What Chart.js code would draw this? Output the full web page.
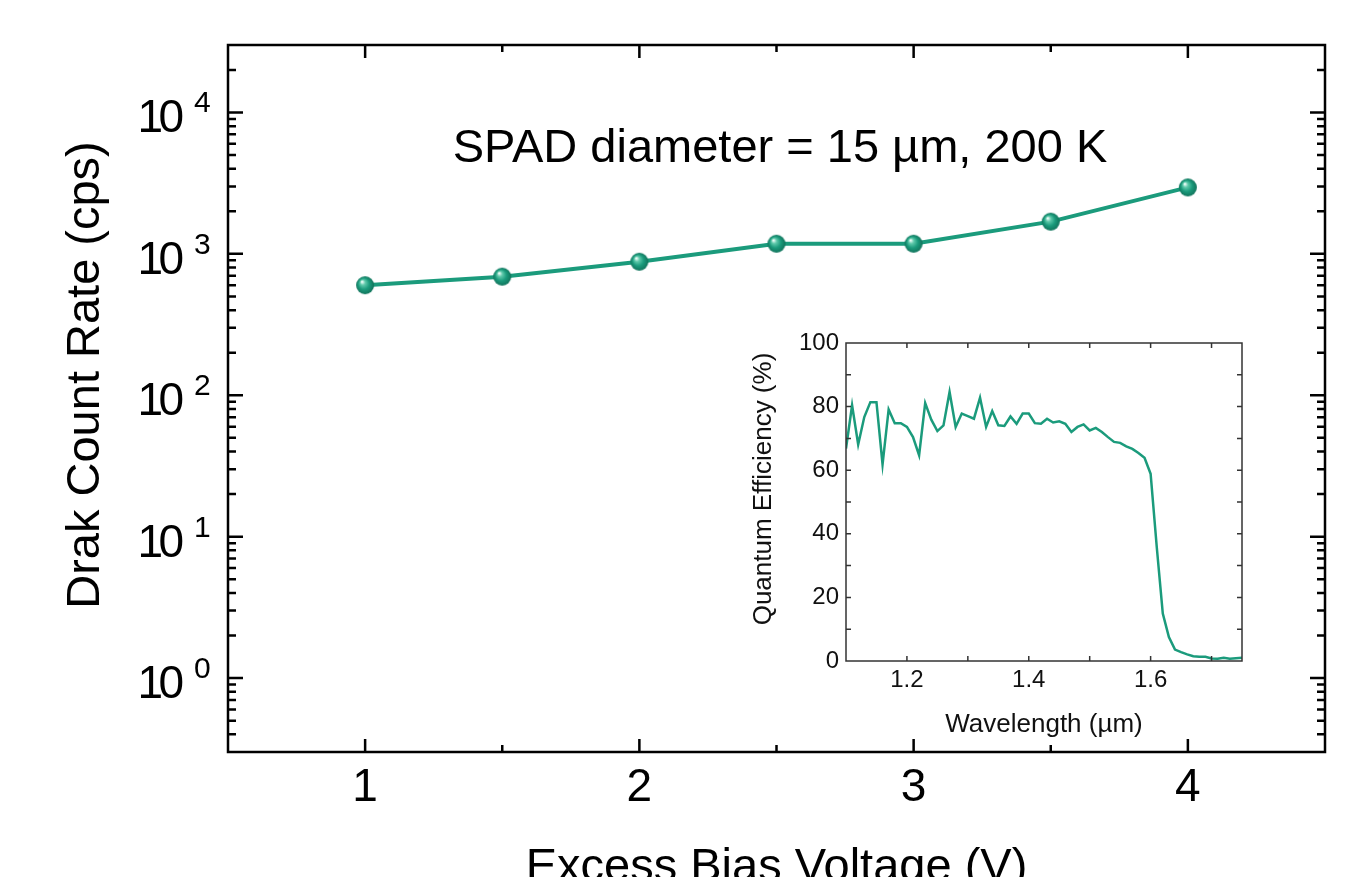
<!DOCTYPE html>
<html>
<head>
<meta charset="utf-8">
<script src="https://cdn.jsdelivr.net/npm/chart.js@4.4.1/dist/chart.umd.min.js"></script>
<style>
  html, body { margin: 0; padding: 0; background: #fff; overflow: hidden; }
  #wrap { position: relative; width: 1346px; height: 877px; }
  #main { position: absolute; left: 0; top: 0; }
  #inset { position: absolute; left: 730px; top: 320px; }
</style>
</head>
<body>
<div id="wrap">
  <canvas id="main" width="1346" height="877"></canvas>
  <canvas id="inset" width="530" height="425"></canvas>
</div>
<script>
// main plot: dark count rate vs excess bias
const biasVoltage = [1, 1.5, 2, 2.5, 3, 3.5, 4];
const darkCountRate = [600, 690, 880, 1180, 1180, 1690, 2950];
const xTickValues = [1, 2, 3, 4];
const yTickExponents = [0, 1, 2, 3, 4];

// inset: quantum efficiency spectrum
const wavelength = [
  1.10, 1.11, 1.12, 1.13, 1.14, 1.15, 1.16, 1.17, 1.18, 1.19,
  1.20, 1.21, 1.22, 1.23, 1.24, 1.25, 1.26, 1.27, 1.28, 1.29,
  1.30, 1.31, 1.32, 1.33, 1.34, 1.35, 1.36, 1.37, 1.38, 1.39,
  1.40, 1.41, 1.42, 1.43, 1.44, 1.45, 1.46, 1.47, 1.48, 1.49,
  1.50, 1.51, 1.52, 1.53, 1.54, 1.55, 1.56, 1.57, 1.58, 1.59,
  1.60, 1.61, 1.62, 1.63, 1.64, 1.65, 1.66, 1.67, 1.68, 1.69,
  1.70, 1.71, 1.72, 1.73, 1.74, 1.75
];
const quantumEfficiency = [
  66.8, 80.4, 68.1, 76.7, 81.4, 81.4, 61.8, 79.1, 74.8, 74.8,
  73.6, 70.4, 64.7, 81.1, 75.9, 72.3, 74.1, 84.6, 73.6, 77.8,
  77.0, 76.2, 82.8, 73.6, 78.6, 74.1, 73.9, 76.9, 74.6, 77.8,
  77.8, 74.8, 74.6, 76.2, 75.0, 75.4, 74.6, 72.0, 73.6, 74.4,
  72.5, 73.3, 72.0, 70.4, 68.9, 68.6, 67.5, 66.7, 65.4, 63.9,
  58.9, 36.0, 14.9, 7.5, 3.6, 2.8, 2.1, 1.5, 1.3, 1.3,
  0.8, 0.7, 1.0, 0.7, 0.9, 1.0
];
const insetXTicks = [1.2, 1.4, 1.6];
const insetYTicks = [0, 20, 40, 60, 80, 100];

const GREEN = '#1b9b7c';
const FONT = "'Liberation Sans', Arial, sans-serif";

// shaded ball marker
function sphere(r) {
  const c = document.createElement('canvas');
  c.width = c.height = Math.ceil(2 * r + 2);
  const g = c.getContext('2d');
  const cx = c.width / 2, cy = c.height / 2;
  const grad = g.createRadialGradient(cx - r * 0.35, cy - r * 0.4, r * 0.05, cx, cy, r);
  grad.addColorStop(0, '#f4fffb');
  grad.addColorStop(0.25, '#5fc9ab');
  grad.addColorStop(0.6, '#1b9b7c');
  grad.addColorStop(1, '#11735b');
  g.fillStyle = grad;
  g.beginPath();
  g.arc(cx, cy, r, 0, Math.PI * 2);
  g.fill();
  return c;
}

const mainFrame = {
  id: 'mainFrame',
  afterDraw(chart) {
    const { ctx, chartArea: a, scales: { x, y } } = chart;
    ctx.save();
    ctx.strokeStyle = '#000';
    ctx.lineWidth = 2.5;
    ctx.strokeRect(a.left, a.top, a.right - a.left, a.bottom - a.top);

    // inward ticks, log minors on y
    ctx.beginPath();
    for (let d = -1; d <= 4; d++) {
      for (let m = 1; m <= 9; m++) {
        const v = m * Math.pow(10, d);
        if (v < y.min * 1.01 || v > y.max * 0.99) continue;
        const py = y.getPixelForValue(v);
        const len = m === 1 ? 15 : 8;
        ctx.moveTo(a.left, py); ctx.lineTo(a.left + len, py);
        ctx.moveTo(a.right, py); ctx.lineTo(a.right - len, py);
      }
    }
    for (let v = 1; v <= 4; v += 0.5) {
      const px = x.getPixelForValue(v);
      const len = Number.isInteger(v) ? 13 : 7;
      ctx.moveTo(px, a.bottom); ctx.lineTo(px, a.bottom - len);
      ctx.moveTo(px, a.top); ctx.lineTo(px, a.top + len);
    }
    ctx.stroke();

    // y tick labels 10^n (digits set tight like the original)
    ctx.fillStyle = '#000';
    ctx.textBaseline = 'alphabetic';
    yTickExponents.forEach(n => {
      const py = y.getPixelForValue(Math.pow(10, n));
      ctx.font = `46px ${FONT}`;
      ctx.textAlign = 'right';
      ctx.fillText('0', 184, py + 20);
      ctx.fillText('1', 163, py + 20);
      ctx.font = `30px ${FONT}`;
      ctx.textAlign = 'left';
      ctx.fillText(String(n), 194, py);
    });

    // axis titles and note
    ctx.font = `47px ${FONT}`;
    ctx.textAlign = 'center';
    ctx.fillText('Excess Bias Voltage (V)', (a.left + a.right) / 2, 881);
    ctx.fillText('SPAD diameter = 15 \u00b5m, 200 K', 780, 162);
    ctx.save();
    ctx.translate(86, 375);
    ctx.rotate(-Math.PI / 2);
    ctx.textBaseline = 'middle';
    ctx.fillText('Drak Count Rate (cps)', 0, 0);
    ctx.restore();
    ctx.restore();
  }
};

new Chart(document.getElementById('main'), {
  type: 'line',
  data: {
    datasets: [{
      data: biasVoltage.map((v, i) => ({ x: v, y: darkCountRate[i] })),
      borderColor: GREEN,
      borderWidth: 4,
      pointStyle: sphere(9),
      pointRadius: 9,
      tension: 0
    }]
  },
  options: {
    responsive: false,
    animation: false,
    events: [],
    layout: { padding: { left: 0, right: 21, top: 45, bottom: 0 } },
    plugins: { legend: { display: false }, tooltip: { enabled: false } },
    scales: {
      x: {
        type: 'linear',
        min: 0.5,
        max: 4.5,
        afterBuildTicks: s => { s.ticks = xTickValues.map(v => ({ value: v })); },
        afterFit: s => { s.height = 125; },
        grid: { display: false, drawTicks: false },
        border: { display: false },
        ticks: { color: '#000', padding: 9, maxRotation: 0, font: { family: FONT, size: 46 } }
      },
      y: {
        type: 'logarithmic',
        min: 0.3,
        max: 30000,
        afterFit: s => { s.width = 228; },
        grid: { display: false, drawTicks: false },
        border: { display: false },
        ticks: { display: false }
      }
    }
  },
  plugins: [mainFrame]
});

const insetFrame = {
  id: 'insetFrame',
  afterDraw(chart) {
    const { ctx, chartArea: a, scales: { x, y } } = chart;
    ctx.save();
    ctx.strokeStyle = '#333';
    ctx.lineWidth = 1.5;
    ctx.strokeRect(a.left, a.top, a.right - a.left, a.bottom - a.top);
    ctx.beginPath();
    for (let v = 10; v < 100; v += 10) {
      const py = y.getPixelForValue(v);
      ctx.moveTo(a.left, py); ctx.lineTo(a.left + 5, py);
      ctx.moveTo(a.right, py); ctx.lineTo(a.right - 5, py);
    }
    for (let k = 12; k <= 17; k++) {
      const px = x.getPixelForValue(k / 10);
      ctx.moveTo(px, a.bottom); ctx.lineTo(px, a.bottom - 5);
      ctx.moveTo(px, a.top); ctx.lineTo(px, a.top + 5);
    }
    ctx.stroke();

    ctx.fillStyle = '#111';
    ctx.font = `26px ${FONT}`;
    ctx.textAlign = 'center';
    ctx.textBaseline = 'alphabetic';
    ctx.fillText('Wavelength (\u00b5m)', (a.left + a.right) / 2, 412);
    ctx.translate(34, 169);
    ctx.rotate(-Math.PI / 2);
    ctx.textBaseline = 'middle';
    ctx.fillText('Quantum Efficiency (%)', 0, 0);
    ctx.restore();
  }
};

new Chart(document.getElementById('inset'), {
  type: 'line',
  data: {
    datasets: [{
      data: wavelength.map((w, i) => ({ x: w, y: quantumEfficiency[i] })),
      borderColor: GREEN,
      borderWidth: 2.5,
      pointRadius: 0,
      tension: 0
    }]
  },
  options: {
    responsive: false,
    animation: false,
    events: [],
    layout: { padding: { left: 0, right: 18, top: 23, bottom: 0 } },
    plugins: { legend: { display: false }, tooltip: { enabled: false } },
    scales: {
      x: {
        type: 'linear',
        min: 1.1,
        max: 1.75,
        afterBuildTicks: s => { s.ticks = insetXTicks.map(v => ({ value: v })); },
        afterFit: s => { s.height = 84; },
        grid: { display: false, drawTicks: false },
        border: { display: false },
        ticks: { color: '#111', padding: 5, maxRotation: 0, font: { family: FONT, size: 24 },
                 callback: v => v.toFixed(1) }
      },
      y: {
        min: 0,
        max: 100,
        afterBuildTicks: s => { s.ticks = insetYTicks.map(v => ({ value: v })); },
        afterFit: s => { s.width = 116; },
        grid: { display: false, drawTicks: false },
        border: { display: false },
        ticks: { color: '#111', padding: 7, font: { family: FONT, size: 24 } }
      }
    }
  },
  plugins: [insetFrame]
});
</script>
</body>
</html>
